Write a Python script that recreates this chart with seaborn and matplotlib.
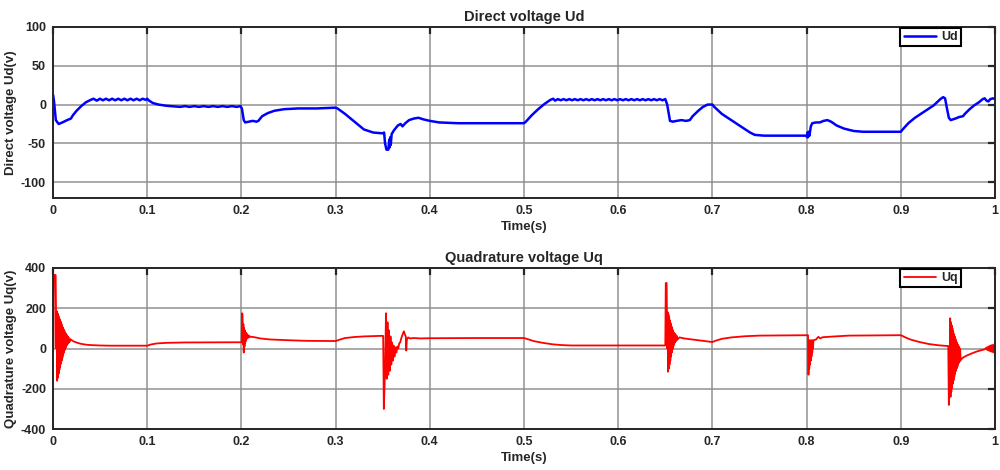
import matplotlib
matplotlib.use("Agg")
import matplotlib.pyplot as plt
import numpy as np
import pandas as pd
import seaborn as sns

# ---------------- Ud (direct voltage) ----------------
ud_t_start = [0.0, 0.001, 0.003, 0.006, 0.010, 0.015, 0.019, 0.021, 0.025, 0.030, 0.035, 0.040, 0.043]
ud_v_start = [13, 5, -20, -25, -23, -20, -18, -14, -8, -2, 3, 6, 7.5]

ud_t_ripple1 = [0.0465, 0.0498, 0.0530, 0.0563, 0.0595, 0.0628, 0.0660, 0.0693, 0.0725,
                0.0758, 0.0790, 0.0823, 0.0855, 0.0888, 0.0920, 0.0953, 0.0985, 0.1000]
ud_v_ripple1 = [5, 7.5, 5.5, 7.5, 5.5, 7.5, 5.5, 7.5, 5.5, 7.5, 5.5, 7.5, 5.5, 7.5, 5.5, 7.5, 6, 7.5]

ud_t_seg2 = [0.102, 0.106, 0.112, 0.120, 0.130, 0.135, 0.140, 0.145, 0.150, 0.155, 0.160,
             0.165, 0.170, 0.175, 0.180, 0.185, 0.190, 0.195, 0.199]
ud_v_seg2 = [5, 2, 0, -1.5, -2.5, -3, -2, -3, -2, -3, -2, -3, -2, -3, -2, -3, -2, -3, -2]

ud_t_seg3 = [0.2005, 0.2025, 0.204, 0.208, 0.212, 0.216, 0.218, 0.222, 0.228, 0.235, 0.245, 0.260, 0.280, 0.300]
ud_v_seg3 = [-5, -20, -23, -22, -21, -22, -21, -15, -11, -8, -6, -5, -5, -4]

ud_t_seg4 = [0.302, 0.310, 0.320, 0.330, 0.340, 0.350, 0.3515, 0.3525, 0.354, 0.356, 0.357, 0.3575,
             0.358, 0.3585, 0.3595, 0.362, 0.366, 0.369, 0.371, 0.374, 0.378, 0.383, 0.388, 0.393, 0.400]
ud_v_seg4 = [-5, -12, -22, -32, -36, -37, -36, -50, -58, -58, -45, -55,
             -42, -52, -38, -33, -27, -25, -28, -24, -20, -18, -17, -19, -21]

ud_t_seg5 = [0.410, 0.430, 0.500, 0.502, 0.508, 0.515, 0.522, 0.528, 0.531, 0.533]
ud_v_seg5 = [-23, -24, -24, -22, -14, -6, 1, 6, 7.5, 5]

ud_t_ripple2 = [0.536, 0.539, 0.542, 0.545, 0.548, 0.551, 0.554, 0.557, 0.560, 0.563, 0.566, 0.569,
                0.572, 0.575, 0.578, 0.581, 0.584, 0.587, 0.590, 0.593, 0.596, 0.599, 0.602, 0.605,
                0.608, 0.611, 0.614, 0.617, 0.620, 0.623, 0.626, 0.629, 0.632, 0.635, 0.638, 0.641,
                0.644, 0.647, 0.650]
ud_v_ripple2 = [7, 5.5, 7, 5.5, 7, 5.5, 7, 5.5, 7, 5.5, 7, 5.5,
                7, 5.5, 7, 5.5, 7, 5.5, 7, 5.5, 7, 5.5, 7, 5.5,
                7, 5.5, 7, 5.5, 7, 5.5, 7, 5.5, 7, 5.5, 7, 5.5,
                7, 5.5, 7]

ud_t_seg6 = [0.652, 0.655, 0.658, 0.662, 0.667, 0.672, 0.676, 0.679, 0.685, 0.690, 0.695, 0.700,
             0.702, 0.710, 0.720, 0.730, 0.740, 0.745, 0.755, 0.800]
ud_v_seg6 = [0, -21, -22, -21, -20, -21, -20, -15, -8, -3, 0, 0,
             -3, -12, -20, -28, -36, -39, -40, -40]

ud_t_seg7 = [0.8005, 0.801, 0.8015, 0.802, 0.803, 0.8045, 0.806, 0.810, 0.814, 0.818, 0.822, 0.826,
             0.832, 0.840, 0.850, 0.860, 0.900]
ud_v_seg7 = [-42, -36, -42, -35, -40, -28, -24, -23, -23, -21, -20, -22, -27, -31, -34, -35, -35]

ud_t_seg8 = [0.902, 0.908, 0.915, 0.925, 0.935, 0.942, 0.945, 0.947, 0.949, 0.951, 0.953, 0.958,
             0.962, 0.966, 0.968, 0.973, 0.978, 0.983, 0.987, 0.989, 0.991, 0.993, 0.995, 0.998, 1.000]
ud_v_seg8 = [-32, -24, -17, -9, -1, 7, 9.5, 8, -5, -17, -20, -18,
             -16, -15, -12, -6, -1, 3, 7, 8, 5, 4, 7, 8, 7]

# ---------------- Uq (quadrature voltage) ----------------
uq_t_burst1 = [0.0, 0.0005, 0.0010, 0.0028, 0.0036, 0.0040, 0.0044, 0.0048, 0.0052, 0.0056, 0.0060,
               0.0064, 0.0068, 0.0072, 0.0076, 0.0080, 0.0084, 0.0088, 0.0092, 0.0096, 0.0100,
               0.0104, 0.0108, 0.0112, 0.0116, 0.0120, 0.0124, 0.0128, 0.0132, 0.0136, 0.0140,
               0.0144, 0.0148, 0.0152, 0.0156, 0.0160, 0.0165, 0.0170, 0.0175, 0.0180]
uq_v_burst1 = [0, 0, 365, 365, 0, 185, -160, 175, -145, 165, -125,
               155, -105, 145, -90, 135, -75, 125, -60, 115, -45,
               105, -32, 96, -20, 88, -8, 80, 2, 74, 10,
               68, 17, 62, 23, 57, 28, 52, 32, 47]
uq_t_seg1 = [0.019, 0.022, 0.026, 0.030, 0.035, 0.040, 0.050, 0.060, 0.100,
             0.104, 0.110, 0.120, 0.140, 0.200]
uq_v_seg1 = [44, 35, 28, 23, 19, 17, 15, 14, 14, 20, 25, 28, 30, 31]

uq_t_burst2 = [0.2003, 0.2007, 0.2012, 0.2017, 0.2021, 0.2025, 0.2029, 0.2033, 0.2037, 0.2041,
               0.2045, 0.2049, 0.2053, 0.2057, 0.2061, 0.2066, 0.2071, 0.2077, 0.2085, 0.2095]
uq_v_burst2 = [31, 175, 170, 20, 120, -20, 100, 10, 90, 30,
               80, 40, 75, 48, 70, 52, 66, 55, 62, 58]
uq_t_seg2 = [0.211, 0.215, 0.220, 0.230, 0.250, 0.270, 0.300, 0.305, 0.310, 0.320, 0.330, 0.350]
uq_v_seg2 = [58, 55, 50, 45, 41, 38, 37, 45, 52, 57, 60, 63]

uq_t_burst3 = [0.3505, 0.3512, 0.3525, 0.3535, 0.3543, 0.3551, 0.3559, 0.3567, 0.3575, 0.3583,
               0.3591, 0.3599, 0.3607, 0.3615, 0.3625, 0.3635, 0.3645, 0.3655, 0.3665, 0.3675,
               0.3685, 0.3700, 0.3715, 0.3725, 0.3735, 0.3745, 0.3750, 0.3757, 0.3770, 0.3790]
uq_v_burst3 = [62, -300, -100, 175, -150, 130, -130, 90, -110, 60,
               -80, 30, -60, 15, -40, 5, -20, 10, 0, 25,
               30, 55, 75, 85, 70, 60, -10, 45, 55, 50]
uq_t_seg3 = [0.383, 0.390, 0.400, 0.450, 0.500, 0.505, 0.510, 0.520, 0.530, 0.540, 0.550, 0.6495]
uq_v_seg3 = [52, 50, 51, 52, 52, 45, 37, 28, 21, 17, 15, 15]

uq_t_burst4 = [0.6500, 0.6505, 0.6514, 0.6521, 0.6525, 0.6529, 0.6533, 0.6537, 0.6541, 0.6545,
               0.6549, 0.6553, 0.6557, 0.6561, 0.6565, 0.6569, 0.6573, 0.6577, 0.6581, 0.6585,
               0.6589, 0.6593, 0.6597, 0.6601, 0.6605, 0.6609, 0.6613, 0.6618, 0.6623, 0.6630]
uq_v_burst4 = [15, 325, 325, 0, 180, -115, 170, -100, 155, -80,
               140, -60, 125, -40, 110, -20, 100, -5, 90, 10,
               80, 20, 75, 28, 70, 35, 66, 40, 62, 45]
uq_t_seg4 = [0.665, 0.670, 0.680, 0.690, 0.700, 0.703, 0.710, 0.720, 0.735, 0.750, 0.8015]
uq_v_seg4 = [55, 50, 44, 38, 32, 38, 48, 55, 61, 64, 66]

uq_t_burst5 = [0.8020, 0.8024, 0.8028, 0.8032, 0.8036, 0.8040, 0.8044, 0.8048, 0.8052, 0.8056,
               0.8060, 0.8064, 0.8068, 0.8072, 0.8080]
uq_v_burst5 = [-130, 40, -100, 40, -80, 40, -60, 40, -40, 40,
               -20, 40, 0, 40, 42]
uq_t_seg5 = [0.810, 0.8125, 0.8145, 0.817, 0.820, 0.830, 0.845, 0.900,
             0.905, 0.910, 0.920, 0.930, 0.940, 0.950]
uq_v_seg5 = [45, 58, 50, 56, 57, 60, 64, 66, 55, 45, 32, 22, 16, 12]

uq_t_burst6 = [0.9504, 0.9510, 0.9515, 0.9524, 0.9528, 0.9532, 0.9536, 0.9540, 0.9544, 0.9548,
               0.9552, 0.9556, 0.9560, 0.9564, 0.9568, 0.9572, 0.9576, 0.9580, 0.9584, 0.9588,
               0.9592, 0.9596, 0.9600, 0.9604, 0.9608, 0.9612, 0.9616, 0.9620, 0.9625, 0.9630,
               0.9635, 0.9645]
uq_v_burst6 = [12, -280, -200, 150, -240, 130, -215, 115, -195, 100,
               -175, 85, -158, 72, -140, 60, -125, 48, -112, 38,
               -100, 28, -90, 20, -80, 12, -72, 5, -64, -2,
               -58, -52]
uq_t_seg6 = [0.966, 0.970, 0.975, 0.980, 0.985, 0.989, 0.991, 0.992, 0.993, 0.994,
             0.995, 0.996, 0.997, 0.998, 0.999, 1.000]
uq_v_seg6 = [-45, -35, -25, -16, -9, -4, 5, -8, 10, -12, 15, -16, 18, -20, 20, -18]

ud = pd.DataFrame({
    "t": np.concatenate([ud_t_start, ud_t_ripple1, ud_t_seg2, ud_t_seg3, ud_t_seg4,
                         ud_t_seg5, ud_t_ripple2, ud_t_seg6, ud_t_seg7, ud_t_seg8]),
    "v": np.concatenate([ud_v_start, ud_v_ripple1, ud_v_seg2, ud_v_seg3, ud_v_seg4,
                         ud_v_seg5, ud_v_ripple2, ud_v_seg6, ud_v_seg7, ud_v_seg8]),
})
uq = pd.DataFrame({
    "t": np.concatenate([uq_t_burst1, uq_t_seg1, uq_t_burst2, uq_t_seg2, uq_t_burst3, uq_t_seg3,
                         uq_t_burst4, uq_t_seg4, uq_t_burst5, uq_t_seg5, uq_t_burst6, uq_t_seg6]),
    "v": np.concatenate([uq_v_burst1, uq_v_seg1, uq_v_burst2, uq_v_seg2, uq_v_burst3, uq_v_seg3,
                         uq_v_burst4, uq_v_seg4, uq_v_burst5, uq_v_seg5, uq_v_burst6, uq_v_seg6]),
})

x_ticks = [0, 0.1, 0.2, 0.3, 0.4, 0.5, 0.6, 0.7, 0.8, 0.9, 1]
x_tick_labels = ["0", "0.1", "0.2", "0.3", "0.4", "0.5", "0.6", "0.7", "0.8", "0.9", "1"]
ud_ticks = [-100, -50, 0, 50, 100]
uq_ticks = [-400, -200, 0, 200, 400]

sns.set_style("white")
plt.rcParams["font.family"] = ["Liberation Sans", "DejaVu Sans"]
plt.rcParams["font.weight"] = "bold"
plt.rcParams["axes.unicode_minus"] = False

fig = plt.figure(figsize=(10, 4.7), dpi=100)
ax1 = fig.add_axes([0.053, 0.579, 0.942, 0.364])
ax2 = fig.add_axes([0.053, 0.087, 0.942, 0.343])


def style_axis(ax, yticks, ylim, title, ylabel):
    ax.set_xlim(0, 1)
    ax.set_ylim(*ylim)
    ax.set_xticks(x_ticks)
    ax.set_xticklabels(x_tick_labels)
    ax.set_yticks(yticks)
    ax.grid(True, color="#8c8c8c", linewidth=1.3, alpha=0.8)
    ax.set_axisbelow(True)
    for s in ax.spines.values():
        s.set_visible(True)
        s.set_color("#262626")
        s.set_linewidth(1.4)
    ax.tick_params(direction="in", length=5, width=1.6, color="#262626",
                   top=True, right=True, labelsize=9, pad=5)
    for lab in ax.get_xticklabels() + ax.get_yticklabels():
        lab.set_fontweight("bold")
    ax.set_title(title, fontsize=10.5, fontweight="bold", pad=4)
    ax.set_xlabel("Time(s)", fontsize=9.5, fontweight="bold", labelpad=3)
    ax.set_ylabel(ylabel, fontsize=9.5, fontweight="bold", labelpad=3)
    leg = ax.legend(loc="upper right", bbox_to_anchor=(0.965, 1.0), borderaxespad=0.1,
                    fancybox=False, framealpha=1, edgecolor="black",
                    prop={"weight": "bold", "size": 9}, handlelength=2.6,
                    borderpad=0.25, handletextpad=0.4)
    leg.get_frame().set_linewidth(1.5)


sns.lineplot(data=ud, x="t", y="v", ax=ax1, color="#0000ff", linewidth=1.8,
             estimator=None, sort=False, label="Ud")
style_axis(ax1, ud_ticks, (-120, 100), "Direct voltage Ud", "Direct voltage Ud(v)")

sns.lineplot(data=uq, x="t", y="v", ax=ax2, color="#ff0000", linewidth=1.3,
             estimator=None, sort=False, label="Uq")
style_axis(ax2, uq_ticks, (-400, 400), "Quadrature voltage Uq", "Quadrature voltage Uq(v)")

fig.savefig("out.png", dpi=100)
